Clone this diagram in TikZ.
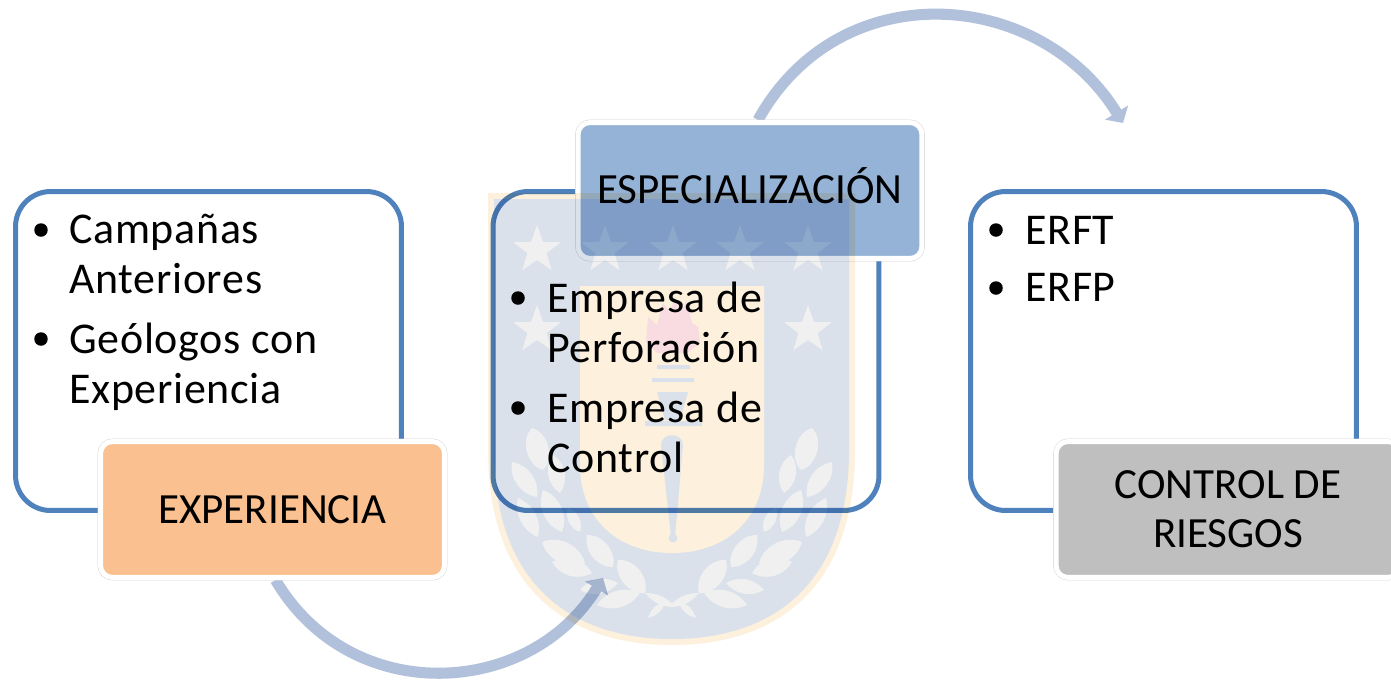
\documentclass[tikz,border=0pt]{standalone}
\usepackage{fontspec}
\setmainfont{Carlito}
\usetikzlibrary{calc,arrows.meta,backgrounds,shapes.geometric}
\definecolor{boxblue}{HTML}{4F81BD}
\definecolor{flowblue}{HTML}{B1C1DB}
\definecolor{exporange}{HTML}{FAC090}
\definecolor{espblue}{HTML}{95B3D7}
\definecolor{riskgray}{HTML}{BFBFBF}
\definecolor{shieldcream}{HTML}{FDF0DC}
\definecolor{shieldblue}{HTML}{DAE1EB}
\definecolor{shieldleaf}{HTML}{F0F0F0}
\definecolor{shieldflame}{HTML}{F9DCE2}
\tikzset{
  listbox/.style={draw=boxblue, line width=2.85pt, rounded corners=0.7cm, minimum width=7.72cm, minimum height=6.38cm, inner sep=0},
  labelbox/.style={preaction={draw=black!18, line width=3.3pt}, draw=white, line width=2.85pt, rounded corners=0.24cm, minimum width=6.88cm, minimum height=2.72cm, align=center, inner sep=0, font=\labelfont},
  itemtext/.style={anchor=base west, align=left, inner sep=0, font=\listfont},
  itemdot/.style={circle, fill=black, minimum size=0.27cm, inner sep=0},
  flow/.style={draw=flowblue, line width=6.3pt, -{Triangle[width=15pt, length=7pt]}},
  shieldstar/.style={star, star points=5, star point ratio=2.5, fill=shieldleaf, minimum size=1cm, inner sep=0}
}
\newcommand{\listfont}{\fontsize{25}{28.45}\selectfont\addfontfeature{LetterSpace=1.6}}
\newcommand{\labelfont}{\fontsize{24.5}{27.9}\selectfont}
\begin{document}
\begin{tikzpicture}[x=0.02cm, y=-0.02cm]
      \useasboundingbox (0, 0) rectangle (1391, 680);
      \begin{scope}[on background layer]
        \fill[white] (0, 0) rectangle (1391, 680);
      \end{scope}
      \node[listbox] (expbox) at (208.5, 351) {};
      \node[listbox] (espbox) at (686, 351) {};
      \node[listbox] (riskbox) at (1163.5, 351) {};
      \node[labelbox, fill=exporange] (exp) at (272.5, 509.5) {EXPERIENCIA};
      \node[labelbox, fill=espblue, text height=0.5cm, text depth=0cm] (esp) at (750, 190.5) {ESPECIALIZACIÓN};
      \node[labelbox, fill=riskgray] (risk) at (1228, 509.5) {CONTROL DE\\RIESGOS};
      \coordinate (exptip) at (603, 578);
      \coordinate (esptip) at (1123, 123);
      \begin{scope}[on background layer]
        \draw[flow] ($(exp.south)+(3, 0)$) .. controls (351, 708) and (530, 698) .. (exptip);
        \draw[flow] ($(esp.north)+(8, 0)$) .. controls (840, -28) and (1040, -12) .. (esptip);
      \end{scope}
      \begin{scope}[blend mode=multiply]
      \begin{scope}[transparency group]
        \fill[shieldcream] (488, 193) -- (855, 193) -- (855, 450) .. controls (855, 590) and (775, 645) .. (672, 645) .. controls (569, 645) and (488, 590) .. (488, 450) -- cycle;
        \fill[shieldblue] (494, 199) -- (849, 199) -- (849, 450) .. controls (849, 585) and (772, 639) .. (672, 639) .. controls (572, 639) and (494, 585) .. (494, 450) -- cycle;
        \fill[shieldcream] (580, 286) -- (764, 286) -- (764, 465) .. controls (764, 520) and (725, 553) .. (672, 553) .. controls (619, 553) and (580, 520) .. (580, 465) -- cycle;
        \foreach \n/\sx/\sy in {a/537/250, b/605/250, c/673/250, d/740/250, e/808/250, f/537/330, g/808/330}
          \node[shieldstar] (star\n) at (\sx, \sy) {};
        \fill[shieldflame] (646, 342) -- (648, 317) -- (657, 325) -- (663, 303) -- (670, 313) -- (675, 297) -- (682, 310) -- (687, 300) -- (692, 323) -- (698, 327) -- (700, 343) -- (687, 353) -- (657, 353) -- cycle;
        \fill[shieldblue] (657, 365) rectangle (690, 369);
        \fill[shieldblue] (652, 378) rectangle (694, 382);
        \fill[shieldblue] (657, 392) -- (688, 392) -- (680, 420) -- (665, 420) -- cycle;
        \fill[shieldblue] (645, 421) rectangle (702, 426);
        \fill[shieldblue] (661, 445) .. controls (661, 432) and (683, 432) .. (683, 445) -- (675, 537) -- (671, 537) -- cycle;
        \fill[shieldblue] (673, 538) circle (4.5);
        \foreach \s in {-1, 1}
          \foreach \ax/\ay/\bx/\by/\w in {129/470/140/428/60, 112/493/119/455/48, 135/497/160/462/45, 110/532/129/490/45, 92/532/104/508/45, 134/537/154/498/40, 59/567/85/535/52, 87/563/130/542/48, 80/573/120/562/45, 27/593/54/560/55, 54/583/92/590/40, 32/593/75/605/40, -3/607/27/593/25, 7/602/24/618/30}
            \fill[shieldleaf] ({672+\s*\ax}, \ay) to[bend left=\w] ({672+\s*\bx}, \by) to[bend left=\w] ({672+\s*\ax}, \ay);
      \end{scope}
      \end{scope}
      \node[itemdot] (dota) at (41, 230) {};
      \node[itemtext] (itema) at (69, 293) {Campañas\\Anteriores};
      \node[itemdot] (dotb) at (41, 339) {};
      \node[itemtext] (itemb) at (69, 403) {Geólogos con\\Experiencia};
      \node[itemdot] (dotc) at (518, 298) {};
      \node[itemtext] (itemc) at (547, 362) {Empresa de\\Perforación};
      \node[itemdot] (dotd) at (518, 408) {};
      \node[itemtext] (itemd) at (547, 472) {Empresa de\\Control};
      \node[itemdot] (dote) at (996, 230) {};
      \node[itemtext] (iteme) at (1025, 244) {ERFT};
      \node[itemdot] (dotf) at (996, 288) {};
      \node[itemtext] (itemf) at (1025, 301) {ERFP};
\end{tikzpicture}
\end{document}
